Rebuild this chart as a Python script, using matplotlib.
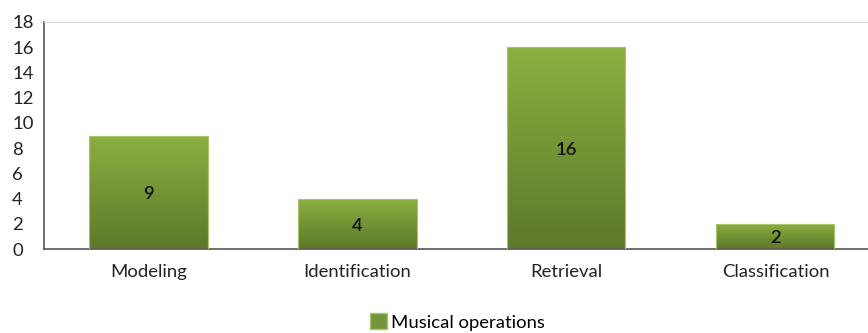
import matplotlib
matplotlib.use("Agg")
import matplotlib.pyplot as plt
import numpy as np
from matplotlib.colors import LinearSegmentedColormap
from matplotlib.patches import Patch

categories = ["Modeling", "Identification", "Retrieval", "Classification"]
counts = [9, 4, 16, 2]
y_ticks = [0, 2, 4, 6, 8, 10, 12, 14, 16, 18]
series_name = "Musical operations"

plt.rcParams["font.family"] = ["Lato", "DejaVu Sans"]
FS = 13.3

fig = plt.figure(figsize=(8.68, 3.33), dpi=100)
ax = fig.add_axes([44 / 868, 84 / 333, 824 / 868, 227 / 333])

# gradient green like the office chart fill
grad = LinearSegmentedColormap.from_list("g", ["#5d782a", "#8bb040"])
x = np.arange(len(categories))
bars = ax.bar(x, counts, width=0.565, color="none", edgecolor="#a9c46e", linewidth=0.8, zorder=3)
for b in bars:
    x0, y0 = b.get_x(), b.get_y()
    w, h = b.get_width(), b.get_height()
    img = ax.imshow(np.linspace(0, 1, 256).reshape(-1, 1), cmap=grad, origin="lower",
                    extent=[x0, x0 + w, y0, y0 + h], aspect="auto", zorder=2)
    img.set_clip_path(b)

for xi, v in zip(x, counts):
    ax.text(xi, v / 2 - 0.15, str(v), ha="center", va="center", fontsize=FS,
            color="#111111", fontweight="semibold", zorder=4)

ax.set_xlim(-0.5, 3.443)
ax.set_ylim(0, 18)
ax.set_yticks(y_ticks)
ax.set_xticks(x)
ax.set_xticklabels(categories)
ax.tick_params(axis="both", length=0, labelsize=FS, colors="#222222")
ax.tick_params(axis="x", pad=11)
ax.tick_params(axis="y", pad=23)
plt.setp(ax.get_yticklabels(), ha="left")

ax.spines["left"].set_color("#555555")
ax.spines["bottom"].set_color("#555555")
ax.spines["left"].set_linewidth(1.2)
ax.spines["bottom"].set_linewidth(1.2)
ax.spines["top"].set_color("#d9d9d9")
ax.spines["right"].set_visible(False)

handle = Patch(facecolor="#74963a", edgecolor="#a9c46e")
fig.legend([handle], [series_name], loc="center", bbox_to_anchor=(0.527, 1 - 322 / 333),
           frameon=False, fontsize=FS, handlelength=0.9, handleheight=0.9, handletextpad=0.2)

fig.savefig("out.png", dpi=100)
